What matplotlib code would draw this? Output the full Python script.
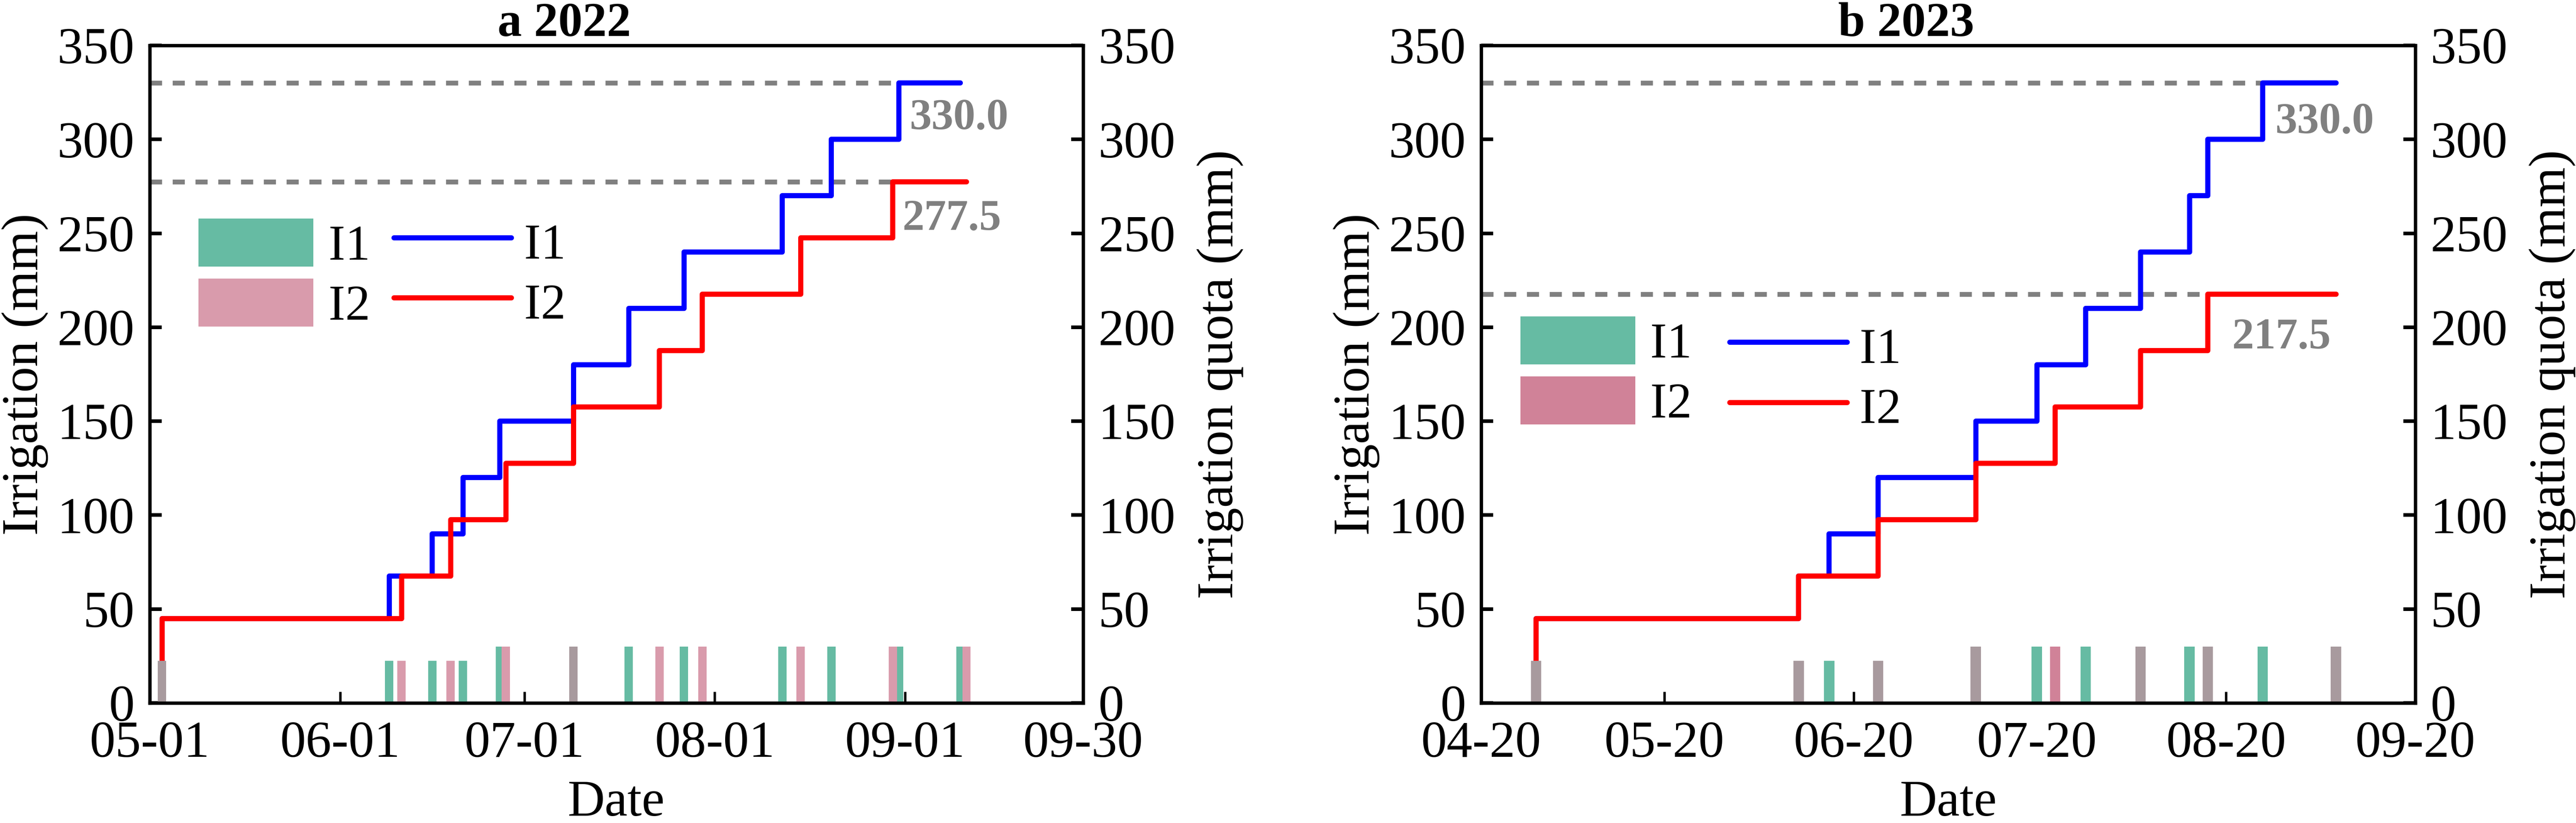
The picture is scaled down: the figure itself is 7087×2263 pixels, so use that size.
import numpy as np
import pandas as pd
import matplotlib
matplotlib.use('Agg')
import matplotlib.pyplot as plt
from matplotlib.patches import Patch
from matplotlib.lines import Line2D
import matplotlib.dates as mdates

plt.rcParams['font.family'] = ['Liberation Serif', 'DejaVu Serif']
plt.rcParams['axes.linewidth'] = 1.1

# ---- 2022 ----
a_i1_dates = ['2022-05-03', '2022-06-09', '2022-06-16', '2022-06-21', '2022-06-27', '2022-07-09',
              '2022-07-18', '2022-07-27', '2022-08-12', '2022-08-20', '2022-08-31', '2022-09-10']
a_i1_amount = [22.5, 22.5, 22.5, 22.5, 30, 30, 30, 30, 30, 30, 30, 30]
a_i1_level = [45, 67.5, 90, 120, 150, 180, 210, 240, 270, 300, 330, 330]

a_i2_dates = ['2022-05-03', '2022-06-11', '2022-06-19', '2022-06-28', '2022-07-09', '2022-07-23',
              '2022-07-30', '2022-08-15', '2022-08-30', '2022-09-11']
a_i2_amount = [22.5, 22.5, 22.5, 30, 30, 30, 30, 30, 30, 30]
a_i2_level = [45, 67.5, 97.5, 127.5, 157.5, 187.5, 217.5, 247.5, 277.5, 277.5]

a_ticks = ['2022-05-01', '2022-06-01', '2022-07-01', '2022-08-01', '2022-09-01', '2022-09-30']

# ---- 2023 ----
b_i1_dates = ['2023-04-29', '2023-06-11', '2023-06-16', '2023-06-24', '2023-07-10', '2023-07-20',
              '2023-07-28', '2023-08-06', '2023-08-14', '2023-08-17', '2023-08-26', '2023-09-07']
b_i1_amount = [22.5, 22.5, 22.5, 22.5, 30, 30, 30, 30, 30, 30, 30, 30]
b_i1_level = [45, 67.5, 90, 120, 150, 180, 210, 240, 270, 300, 330, 330]

b_i2_dates = ['2023-04-29', '2023-06-11', '2023-06-24', '2023-07-10', '2023-07-23', '2023-08-06',
              '2023-08-17', '2023-09-07']
b_i2_amount = [22.5, 22.5, 22.5, 30, 30, 30, 30, 30]
b_i2_level = [45, 67.5, 97.5, 127.5, 157.5, 187.5, 217.5, 217.5]

b_ticks = ['2023-04-20', '2023-05-20', '2023-06-20', '2023-07-20', '2023-08-20', '2023-09-20']

green = '#66BBA3'
both = '#A89A9E'
fs = 17


def to_dt(lst):
    return list(pd.to_datetime(lst).to_pydatetime())


def panel(ax, title, title_x, d1, amt1, lvl1, d2, amt2, lvl2, ticks, pink, bar_w,
          txt_off, leg_bar_xy, leg_line_xy):
    d1 = to_dt(d1); d2 = to_dt(d2); ticks = to_dt(ticks)

    # cumulative steps
    ax.step([d1[0]] + d1, [0] + lvl1, where='post', color='#0000FF', lw=1.7,
            solid_joinstyle='round', solid_capstyle='round', zorder=3)
    ax.step([d2[0]] + d2, [0] + lvl2, where='post', color='#FF0000', lw=1.7,
            solid_joinstyle='round', solid_capstyle='round', zorder=3)

    # irrigation events, grey where both treatments were watered the same day
    ax.bar(d1, amt1, width=bar_w, color=green, zorder=4)
    ax.bar(d2, amt2, width=bar_w, color=pink, zorder=4)
    common = [d for d in d1 if d in d2]
    h_common = [min(amt1[d1.index(d)], amt2[d2.index(d)]) for d in common]
    ax.bar(common, h_common, width=bar_w, color=both, zorder=5)

    # quota lines + labels
    for lvl, d, off in zip([lvl1, lvl2], [d1, d2], txt_off):
        top = lvl[-1]
        reach = d[lvl.index(top)]
        ax.plot([ticks[0], reach], [top, top], color='gray', lw=1.6, dashes=(2.5, 2.2), zorder=2)
        ax.text(mdates.date2num(reach) + off[0], off[1], f'{top:.1f}', color='gray',
                fontsize=14.5, fontweight='bold', ha='left', va='center')

    ax.set_xlim(ticks[0], ticks[-1])
    ax.set_xticks(ticks)
    ax.xaxis.set_major_formatter(mdates.DateFormatter('%m-%d'))
    ax.set_ylim(0, 350)
    ax.set_yticks(np.arange(0, 351, 50))
    ax.tick_params(axis='x', direction='in', length=3.7, width=0.8, labelsize=fs, pad=6)
    ax.tick_params(axis='y', direction='in', length=4, width=1.2, labelsize=fs, pad=5)
    ax.set_xlabel('Date', fontsize=fs, labelpad=4)
    ax.set_ylabel('Irrigation (mm)', fontsize=fs, labelpad=3)

    axr = ax.twinx()
    axr.set_ylim(0, 350)
    axr.set_yticks(np.arange(0, 351, 50))
    axr.tick_params(axis='y', direction='in', length=4, width=1.2, labelsize=fs, pad=5)
    axr.set_ylabel('Irrigation quota (mm)', fontsize=fs, labelpad=7)

    ax.text(title_x, 1.0144, title, transform=ax.transAxes, ha='center', va='baseline',
            fontsize=16, fontweight='bold')

    h_bar = [Patch(facecolor=green), Patch(facecolor=pink)]
    leg1 = ax.legend(h_bar, ['I1', 'I2'], loc='upper left', bbox_to_anchor=leg_bar_xy,
                     frameon=False, fontsize=16.5, handlelength=2.3, handleheight=1.1,
                     handletextpad=0.3, labelspacing=0.17, borderpad=0, borderaxespad=0)
    ax.add_artist(leg1)
    h_line = [Line2D([], [], color='#0000FF', lw=1.7, solid_capstyle='round'),
              Line2D([], [], color='#FF0000', lw=1.7, solid_capstyle='round')]
    ax.legend(h_line, ['I1', 'I2'], loc='upper left', bbox_to_anchor=leg_line_xy,
              frameon=False, fontsize=16.5, handlelength=2.35, handleheight=1.1,
              handletextpad=0.25, labelspacing=0.17, borderpad=0, borderaxespad=0)


fig = plt.figure(figsize=(7087 / 600, 2263 / 600), dpi=600)
ax1 = fig.add_axes([0.05813, 0.14583, 0.36235, 0.79894])
ax2 = fig.add_axes([0.57500, 0.14583, 0.36264, 0.79894])

panel(ax1, 'a 2022', 0.444, a_i1_dates, a_i1_amount, a_i1_level,
      a_i2_dates, a_i2_amount, a_i2_level, a_ticks, '#D99BAC', 1.35,
      [(1.7, 311), (1.6, 257.5)], (0.0522, 0.7367), (0.2617, 0.7384))
panel(ax2, 'b 2023', 0.455, b_i1_dates, b_i1_amount, b_i1_level,
      b_i2_dates, b_i2_amount, b_i2_level, b_ticks, '#D08298', 1.7,
      [(2.0, 309), (4.0, 194.3)], (0.042, 0.588), (0.2661, 0.5796))

fig.savefig('out.png', dpi=600)
